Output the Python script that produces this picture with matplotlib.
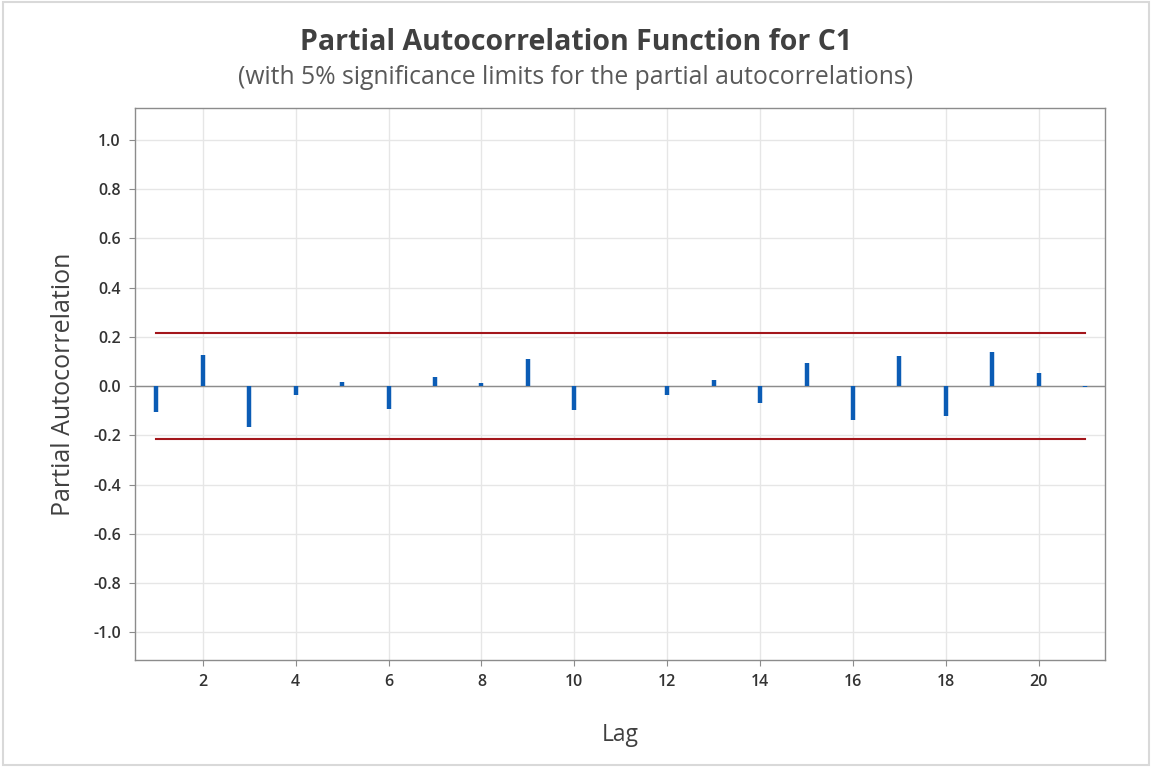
import matplotlib
matplotlib.use("Agg")
import matplotlib.pyplot as plt
from matplotlib.patches import Rectangle

lags = list(range(1, 22))
pacf = [-0.107, 0.126, -0.165, -0.038, 0.018, -0.095, 0.035, 0.011, 0.108, -0.097,
        0.002, -0.038, 0.026, -0.070, 0.092, -0.138, 0.123, -0.120, 0.137, 0.051, -0.003]
limit = 0.214
yticks = [1.0, 0.8, 0.6, 0.4, 0.2, 0.0, -0.2, -0.4, -0.6, -0.8, -1.0]
xticks = [2, 4, 6, 8, 10, 12, 14, 16, 18, 20]

plt.rcParams['font.family'] = ['Open Sans', 'DejaVu Sans']

fig = plt.figure(figsize=(11.52, 7.67), dpi=100)
fig.patches.append(Rectangle((0.003, 0.003), 0.994, 0.994, transform=fig.transFigure,
                             fill=False, edgecolor='#d9d9d9', linewidth=1.5))
ax = fig.add_axes([0.117, 0.1395, 0.842, 0.7195])

ax.set_xlim(0.536, 21.42)
ax.set_ylim(-1.112, 1.128)

for y in yticks:
    ax.axhline(y, color='#e6e6e6', linewidth=1.0, zorder=0)
for x in xticks:
    ax.axvline(x, color='#e6e6e6', linewidth=1.0, zorder=0)

ax.axhline(0, color='#8c8c8c', linewidth=1.0, zorder=1)
ax.plot([lags[0], lags[-1]], [limit, limit], color='#a3161b', linewidth=1.5, zorder=2)
ax.plot([lags[0], lags[-1]], [-limit, -limit], color='#a3161b', linewidth=1.5, zorder=2)
ax.vlines(lags, 0, pacf, color='#0b5cb5', linewidth=3.2, zorder=3)

ax.set_yticks(yticks)
ax.set_yticklabels([f"{v:.1f}" for v in yticks])
ax.set_xticks(xticks)
ax.tick_params(axis='both', labelsize=11.5, colors='#333333', length=4, color='#8c8c8c', pad=6)
for lab in ax.get_xticklabels() + ax.get_yticklabels():
    lab.set_fontweight('semibold')
for s in ax.spines.values():
    s.set_color('#8c8c8c')
    s.set_linewidth(1.0)

ax.set_xlabel('Lag', fontsize=16.5, color='#404040', labelpad=24)
ax.set_ylabel('Partial Autocorrelation', fontsize=18, color='#404040', labelpad=12)

fig.text(0.5, 0.945, 'Partial Autocorrelation Function for C1', ha='center', va='center',
         fontsize=20.5, fontweight='bold', color='#404040')
fig.text(0.5, 0.899, '(with 5% significance limits for the partial autocorrelations)',
         ha='center', va='center', fontsize=17.8, color='#595959')

fig.savefig('out.png', dpi=100)
